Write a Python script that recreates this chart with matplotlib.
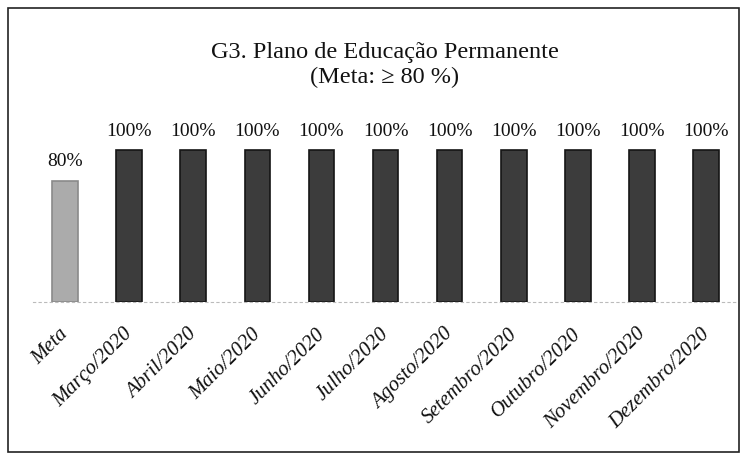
import matplotlib
matplotlib.use("Agg")
import matplotlib.pyplot as plt
from matplotlib.patches import Rectangle
from matplotlib.transforms import ScaledTranslation

categories = ["Meta", "Março/2020", "Abril/2020", "Maio/2020", "Junho/2020", "Julho/2020",
              "Agosto/2020", "Setembro/2020", "Outubro/2020", "Novembro/2020", "Dezembro/2020"]
values = [80, 100, 100, 100, 100, 100, 100, 100, 100, 100, 100]
labels = ["80%"] + ["100%"] * 10
title = "G3. Plano de Educação Permanente\n(Meta: ≥ 80 %)"

plt.rcParams['font.family'] = ['Liberation Serif', 'DejaVu Serif']

fig = plt.figure(figsize=(7.48, 4.59), dpi=100)
fig.patches.append(Rectangle((8/748, 7/459), 731/748, 444/459, transform=fig.transFigure,
                             fill=False, edgecolor="#222222", linewidth=1.2))
ax = fig.add_axes([33/748, 157/459, 705/748, 182/459])

colors = ["#ababab"] + ["#3c3c3c"] * 10
edges = ["#8a8a8a"] + ["#151515"] * 10
x = list(range(len(categories)))
bars = ax.bar(x, values, width=0.4, color=colors, edgecolor=edges, linewidth=1.2)
for xi, v, lab in zip(x, values, labels):
    ax.text(xi, v + 7, lab, ha="center", va="bottom", fontsize=14, color="#111111")

ax.set_xlim(-0.5, len(categories) - 0.5)
ax.set_ylim(0, 120)
ax.set_yticks([])
ax.set_xticks(x)
ax.set_xticklabels(categories, rotation=45, ha="right", rotation_mode="anchor",
                   fontstyle="italic", fontsize=15, color="#111111")
ax.tick_params(axis="x", length=0, pad=12)
shift = ScaledTranslation(-6/100, -6/100, fig.dpi_scale_trans)
for t in ax.get_xticklabels():
    t.set_transform(t.get_transform() + shift)
for s in ["top", "right", "left"]:
    ax.spines[s].set_visible(False)
ax.spines["bottom"].set_color("#bbbbbb")
ax.spines["bottom"].set_linestyle((0, (2, 3)))
ax.spines["bottom"].set_linewidth(0.8)

fig.text(385/748, 1 - 65/459, title, ha="center", va="center", fontsize=17.5,
         linespacing=1.25, color="#111111")

fig.savefig("out.png", dpi=100)
